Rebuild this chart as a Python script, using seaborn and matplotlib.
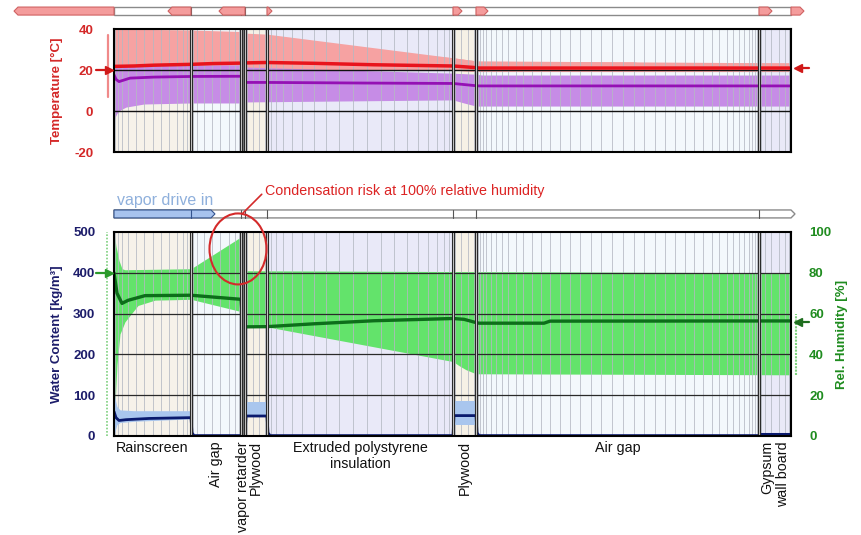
import numpy as np
import pandas as pd
import matplotlib
matplotlib.use("Agg")
import matplotlib.pyplot as plt
import matplotlib.transforms as mtransforms
from matplotlib.patches import Polygon, Ellipse
import seaborn as sns

# ---------------- data ----------------
layer_names = ["Rainscreen", "Air gap", "vapor retarder", "Plywood",
               "Extruded polystyrene\ninsulation", "Plywood", "Air gap", "Gypsum\nwall board"]
layer_widths = [77, 50, 4, 22, 186, 23, 283, 32]
layer_rotated = [False, True, True, True, False, True, False, True]
layer_colors = ["#f6f2ea", "#f3f8fc", "#8a8a8a", "#f6f1e6", "#e9e9f8", "#f6f1e6", "#f3f8fc", "#e9e9f8"]
layer_mesh = [13, 8, 0, 4, 20, 4, 40, 6]

# temperature [C]
temp_x = [0, 20, 40, 77, 100, 127, 131, 153, 200, 260, 339, 362, 365, 677]
temp_mean = [21.8, 22.0, 22.4, 22.8, 23.2, 23.4, 23.5, 23.7, 23.3, 22.6, 22.0, 21.2, 21.0, 21.0]
tmax_x = [0, 77, 127, 131, 153, 339, 362, 365, 520, 525, 677]
tmax = [40, 39.5, 38.8, 38, 37.5, 26, 24.5, 24, 24, 23.5, 23.5]
tmin_x = [0, 339, 362, 677]
tmin = [20, 20, 19.3, 19.3]
# dew point [C]
dew_x = [0, 2, 5, 16, 40, 77, 127, 131, 153, 250, 339, 362, 365, 677]
dew_mean = [17.7, 15.5, 14.4, 16.1, 16.6, 16.9, 17.0, 14.0, 14.0, 13.7, 13.5, 12.4, 12.3, 12.3]
dmax_x = [0, 127, 131, 339, 362, 368, 677]
dmax = [22.5, 22.5, 21.5, 18.5, 18.0, 17.6, 17.6]
dmin_x = [0, 1, 3, 6, 12, 30, 77, 127, 131, 339, 350, 362, 677]
dmin = [-6, -3, -1, 0.5, 2, 3.5, 4, 4, 4.5, 5.5, 4, 2.5, 2.5]

# relative humidity [%]
rh_x = [0, 3, 8, 14, 31, 77, 127, 129, 153, 200, 260, 339, 350, 362, 365, 430, 436, 677]
rh_mean = [80, 70, 65, 66.5, 68.8, 69, 67, 53.5, 53.6, 55, 56.5, 57.6, 57.2, 55.6, 55.3, 55.3, 56.3, 56.4]
rhmax_x = [0, 2, 5, 8, 11, 77, 127, 129, 677]
rhmax = [100, 93, 86, 82, 81.5, 82, 97.6, 81, 80]
rhmin_x = [0, 1, 3, 6, 11, 24, 41, 77, 127, 129, 153, 339, 345, 352, 362, 677]
rhmin = [0, 15, 35, 50, 56, 64, 66.6, 67, 61, 53.5, 53.5, 36.5, 34.5, 32.5, 30.5, 30]

# water content [kg/m3]
wc_x = [0, 2, 5, 12, 35, 77, 78, 80, 131, 132, 153, 154, 156, 339, 340, 362, 363, 365, 645, 646, 677]
wc_mean = [60, 45, 38, 40, 43, 45, 8, 1, 1, 49, 49, 8, 1, 1, 50, 50, 8, 1, 1, 4, 4]
wc_band_rain_x = [0, 1, 3, 6, 20, 77]
wc_band_rain_hi = [100, 92, 72, 64, 62, 62]
wc_band_rain_lo = [0, 12, 28, 33, 36, 42]
wc_band_ply1_x = [132, 153]
wc_band_ply1_hi = [84, 84]
wc_band_ply1_lo = [48, 48]
wc_band_ply2_x = [340, 362]
wc_band_ply2_hi = [85, 85]
wc_band_ply2_lo = [27, 27]

# boundary condition markers
temp_left_marker, temp_right_marker = 20, 21
temp_left_range = [7, 37]
rh_left_marker, rh_right_marker = 80, 56
rh_right_range = [30, 60]

# flux arrows (edge index, signed length)
heat_flux_edges = [0, 1, 3, 4, 5, 6, 7, 8]
heat_flux_len = [-100, -23, -26, 5, 9, 12, 13, 13]
vapor_flux_edges = [0]
vapor_flux_len = [101]

# ---------------- style ----------------
sns.set_style("white")
plt.rcParams["font.family"] = ["Liberation Sans", "DejaVu Sans"]
plt.rcParams["axes.unicode_minus"] = False

RED = "#d42828"
NAVY = "#1c1c6a"
GREEN = "#1f8c1f"

W, H = 861, 535
fig = plt.figure(figsize=(W / 100, H / 100), dpi=100)


def box(x0, y0, x1, y1):
    return [x0 / W, 1 - y1 / H, (x1 - x0) / W, (y1 - y0) / H]


ax_t = fig.add_axes(box(114, 29, 791, 152.3))
ax_wc = fig.add_axes(box(114, 232, 791, 436))
ax_rh = ax_wc.twinx()
ax_wc.set_zorder(3)
ax_rh.set_zorder(2)
ax_wc.patch.set_visible(False)

edges = np.concatenate([[0], np.cumsum(layer_widths)])
XMAX = edges[-1]


def mesh(a, b, n):
    t = np.linspace(0, 1, n + 2)[1:-1]
    return a + (b - a) * (1 - np.cos(np.pi * t)) / 2


def draw_layers(ax):
    for i in range(len(layer_widths)):
        a, b = edges[i], edges[i + 1]
        ax.axvspan(a, b, color=layer_colors[i], lw=0, zorder=0)
        for p in mesh(a, b, layer_mesh[i]):
            ax.axvline(p, color="#b4b8c2", lw=0.7, alpha=0.8, zorder=2.5)


def draw_boundaries(ax):
    for i in range(len(layer_widths)):
        if layer_widths[i] < 6:
            ax.axvspan(edges[i], edges[i + 1], color="#7a7a7a", lw=0, zorder=6)
    for e in edges[1:-1]:
        ax.axvspan(e - 1.3, e + 1.3, color="#d2d2d2", lw=0, zorder=6)
        ax.axvline(e - 1.3, color="#2a2a2a", lw=0.8, zorder=6.5)
        ax.axvline(e + 1.3, color="#2a2a2a", lw=0.8, zorder=6.5)


# ---------------- top panel: temperature ----------------
draw_layers(ax_t)
ax_t.fill_between(tmax_x, np.interp(tmax_x, tmin_x, tmin), tmax, color="#f6a2a2", lw=0, zorder=1)
ax_t.fill_between(tmin_x, tmin, np.interp(tmin_x, tmax_x, tmax), color="#f6a2a2", lw=0, zorder=1)
xs = sorted(set(dmax_x) | set(dmin_x))
ax_t.fill_between(xs, np.interp(xs, dmin_x, dmin), np.interp(xs, dmax_x, dmax),
                  color="#c68ce6", lw=0, zorder=1.5)
for yv in [0, 20]:
    ax_t.axhline(yv, color="#111111", lw=1.0, zorder=3)
sns.lineplot(x=dew_x, y=dew_mean, ax=ax_t, color="#9410b4", lw=2.0, estimator=None, sort=False, zorder=5)
sns.lineplot(x=temp_x, y=temp_mean, ax=ax_t, color="#e8141c", lw=2.5, estimator=None, sort=False, zorder=5.2)
draw_boundaries(ax_t)
ax_t.set_xlim(0, XMAX)
ax_t.set_ylim(-20, 40)
ax_t.set_yticks([-20, 0, 20, 40])
ax_t.set_xticks([])
ax_t.tick_params(axis="y", length=0, pad=15, labelsize=9.5, labelcolor=RED)
for lab in ax_t.get_yticklabels():
    lab.set_fontweight("bold")
ax_t.set_ylabel("Temperature [°C]", color=RED, fontweight="bold", fontsize=9.5)
ax_t.yaxis.set_label_coords(-0.075, 0.5)
for s in ax_t.spines.values():
    s.set_color("black")
    s.set_linewidth(1.5)
    s.set_zorder(8)

# ---------------- bottom panel: RH + water content ----------------
draw_layers(ax_rh)
xs = sorted(set(rhmax_x) | set(rhmin_x))
ax_rh.fill_between(xs, np.interp(xs, rhmin_x, rhmin), np.interp(xs, rhmax_x, rhmax),
                   color="#63e36b", lw=0, zorder=1)
for yv in [20, 40, 60, 80]:
    ax_rh.axhline(yv, color="#2a2a2a", lw=0.9, zorder=3)
sns.lineplot(x=rh_x, y=rh_mean, ax=ax_rh, color="#0d6e1a", lw=2.4, estimator=None, sort=False, zorder=5)
ax_rh.set_ylim(0, 100)
ax_rh.set_xlim(0, XMAX)
ax_rh.set_yticks([0, 20, 40, 60, 80, 100])
ax_rh.tick_params(axis="y", length=0, pad=13, labelsize=9.5, labelcolor=GREEN)
for lab in ax_rh.get_yticklabels():
    lab.set_fontweight("bold")
ax_rh.set_ylabel("Rel. Humidity [%]", color=GREEN, fontweight="bold", fontsize=9.5)
ax_rh.yaxis.set_label_coords(1.066, 0.5)
for s in ax_rh.spines.values():
    s.set_visible(False)

for bx, hi, lo in [(wc_band_rain_x, wc_band_rain_hi, wc_band_rain_lo),
                   (wc_band_ply1_x, wc_band_ply1_hi, wc_band_ply1_lo),
                   (wc_band_ply2_x, wc_band_ply2_hi, wc_band_ply2_lo)]:
    ax_wc.fill_between(bx, lo, hi, color="#a9c6ee", lw=0, zorder=1)
sns.lineplot(x=wc_x, y=wc_mean, ax=ax_wc, color="#0a1a6e", lw=2.0, estimator=None, sort=False, zorder=5)
draw_boundaries(ax_wc)
ax_wc.set_xlim(0, XMAX)
ax_wc.set_ylim(0, 500)
ax_wc.set_yticks([0, 100, 200, 300, 400, 500])
ax_wc.set_xticks([])
ax_rh.set_xticks([])
ax_wc.tick_params(axis="y", length=0, pad=13.5, labelsize=9.5, labelcolor=NAVY)
for lab in ax_wc.get_yticklabels():
    lab.set_fontweight("bold")
ax_wc.set_ylabel("Water Content [kg/m³]", color=NAVY, fontweight="bold", fontsize=9.5)
ax_wc.yaxis.set_label_coords(-0.075, 0.5)
for s in ax_wc.spines.values():
    s.set_color("black")
    s.set_linewidth(1.5)
    s.set_zorder(8)

# ---------------- flux bars ----------------
def arrow_pts(x0, length, y0, y1, tip=4):
    x1 = x0 + length
    yc = (y0 + y1) / 2
    if length > 0:
        return [(x0, y0), (x1 - tip, y0), (x1, yc), (x1 - tip, y1), (x0, y1)]
    return [(x0, y0), (x1 + tip, y0), (x1, yc), (x1 + tip, y1), (x0, y1)]


def draw_bar(ax, y0, y1, end_arrow):
    tr = mtransforms.blended_transform_factory(ax.transData, ax.transAxes)
    pts = arrow_pts(0, XMAX + 4, y0, y1) if end_arrow else \
        [(0, y0), (XMAX, y0), (XMAX, y1), (0, y1)]
    ax.add_patch(Polygon(pts, closed=True, facecolor="white", edgecolor="#8a8a8a", lw=1.0,
                         transform=tr, clip_on=False, zorder=1))
    for e in edges[1:-1]:
        ax.plot([e, e], [y0, y1], color="#555555", lw=0.8, transform=tr, clip_on=False, zorder=2)
    return tr


tr_t = draw_bar(ax_t, 1.113, 1.178, False)
for ei, ln in zip(heat_flux_edges, heat_flux_len):
    ax_t.add_patch(Polygon(arrow_pts(edges[ei], ln, 1.113, 1.178), closed=True,
                           facecolor="#f49c9c", edgecolor="#d06262", lw=0.8,
                           transform=tr_t, clip_on=False, zorder=3))

tr_b = draw_bar(ax_wc, 1.069, 1.108, True)
for ei, ln in zip(vapor_flux_edges, vapor_flux_len):
    ax_wc.add_patch(Polygon(arrow_pts(edges[ei], ln, 1.069, 1.108), closed=True,
                            facecolor="#a7c3ee", edgecolor="#34548e", lw=0.8,
                            transform=tr_b, clip_on=False, zorder=3))
    for e in edges[1:-1]:
        if edges[ei] < e < edges[ei] + ln:
            ax_wc.plot([e, e], [1.069, 1.108], color="#34548e", lw=0.8, transform=tr_b,
                       clip_on=False, zorder=4)
ax_wc.text(3, 1.152, "vapor drive in", transform=tr_b, color="#8fb0dc", fontsize=11.5,
           va="center", ha="left")

# ---------------- annotation ----------------
ax_wc.add_patch(Ellipse((124, 0.917), width=57, height=0.348, transform=tr_b, fill=False,
                        edgecolor="#d42a2a", lw=1.5, clip_on=False, zorder=10))
ax_wc.annotate("Condensation risk at 100% relative humidity", xy=(129, 1.093),
               xycoords=("data", "axes fraction"), xytext=(151, 1.201),
               textcoords=("data", "axes fraction"), color="#dc2323", fontsize=10.3,
               ha="left", va="center", annotation_clip=False,
               arrowprops=dict(arrowstyle="-", color="#d42a2a", lw=1.2, relpos=(0, 0.5),
                               shrinkA=0, shrinkB=0))

# ---------------- boundary markers ----------------
def side_marker(ax, y, side, color):
    tr = mtransforms.blended_transform_factory(ax.transAxes, ax.transData)
    if side == "left":
        ax.plot([-0.026, -0.008], [y, y], color=color, lw=1.6, transform=tr, clip_on=False, zorder=9)
        ax.plot([-0.007], [y], marker=">", ms=6, color=color, transform=tr, clip_on=False, zorder=9)
    else:
        ax.plot([1.012, 1.026], [y, y], color=color, lw=1.6, transform=tr, clip_on=False, zorder=9)
        ax.plot([1.011], [y], marker="<", ms=6, color=color, transform=tr, clip_on=False, zorder=9)
    return tr


trm = side_marker(ax_t, temp_left_marker, "left", "#d01818")
ax_t.plot([-0.009, -0.009], temp_left_range, color="#f08a8a", lw=1.6, transform=trm, clip_on=False, zorder=8)
side_marker(ax_t, temp_right_marker, "right", "#d01818")

trw = side_marker(ax_wc, rh_left_marker * 5, "left", "#2a9a2a")
ax_wc.plot([-0.0105, -0.0105], [0, 500], color="#7fd07f", lw=1.2, ls=(0, (1, 1)),
           transform=trw, clip_on=False, zorder=8)
trr = side_marker(ax_rh, rh_right_marker, "right", "#1f6e1f")
ax_rh.plot([1.0075, 1.0075], rh_right_range, color="#7fd07f", lw=1.5, ls=(0, (1, 0.6)),
           transform=trr, clip_on=False, zorder=8)

# ---------------- layer labels ----------------
tr_lab = mtransforms.blended_transform_factory(ax_wc.transData, ax_wc.transAxes)
for i, name in enumerate(layer_names):
    xc = (edges[i] + edges[i + 1]) / 2
    if layer_rotated[i]:
        ax_wc.text(xc, -0.025, name, transform=tr_lab, rotation=90, ha="center", va="top",
                   multialignment="right", fontsize=10.3, color="#111111")
    else:
        ax_wc.text(xc, -0.025, name, transform=tr_lab, ha="center", va="top",
                   multialignment="center", fontsize=10.3, color="#111111")

fig.savefig("out.png", dpi=100)
